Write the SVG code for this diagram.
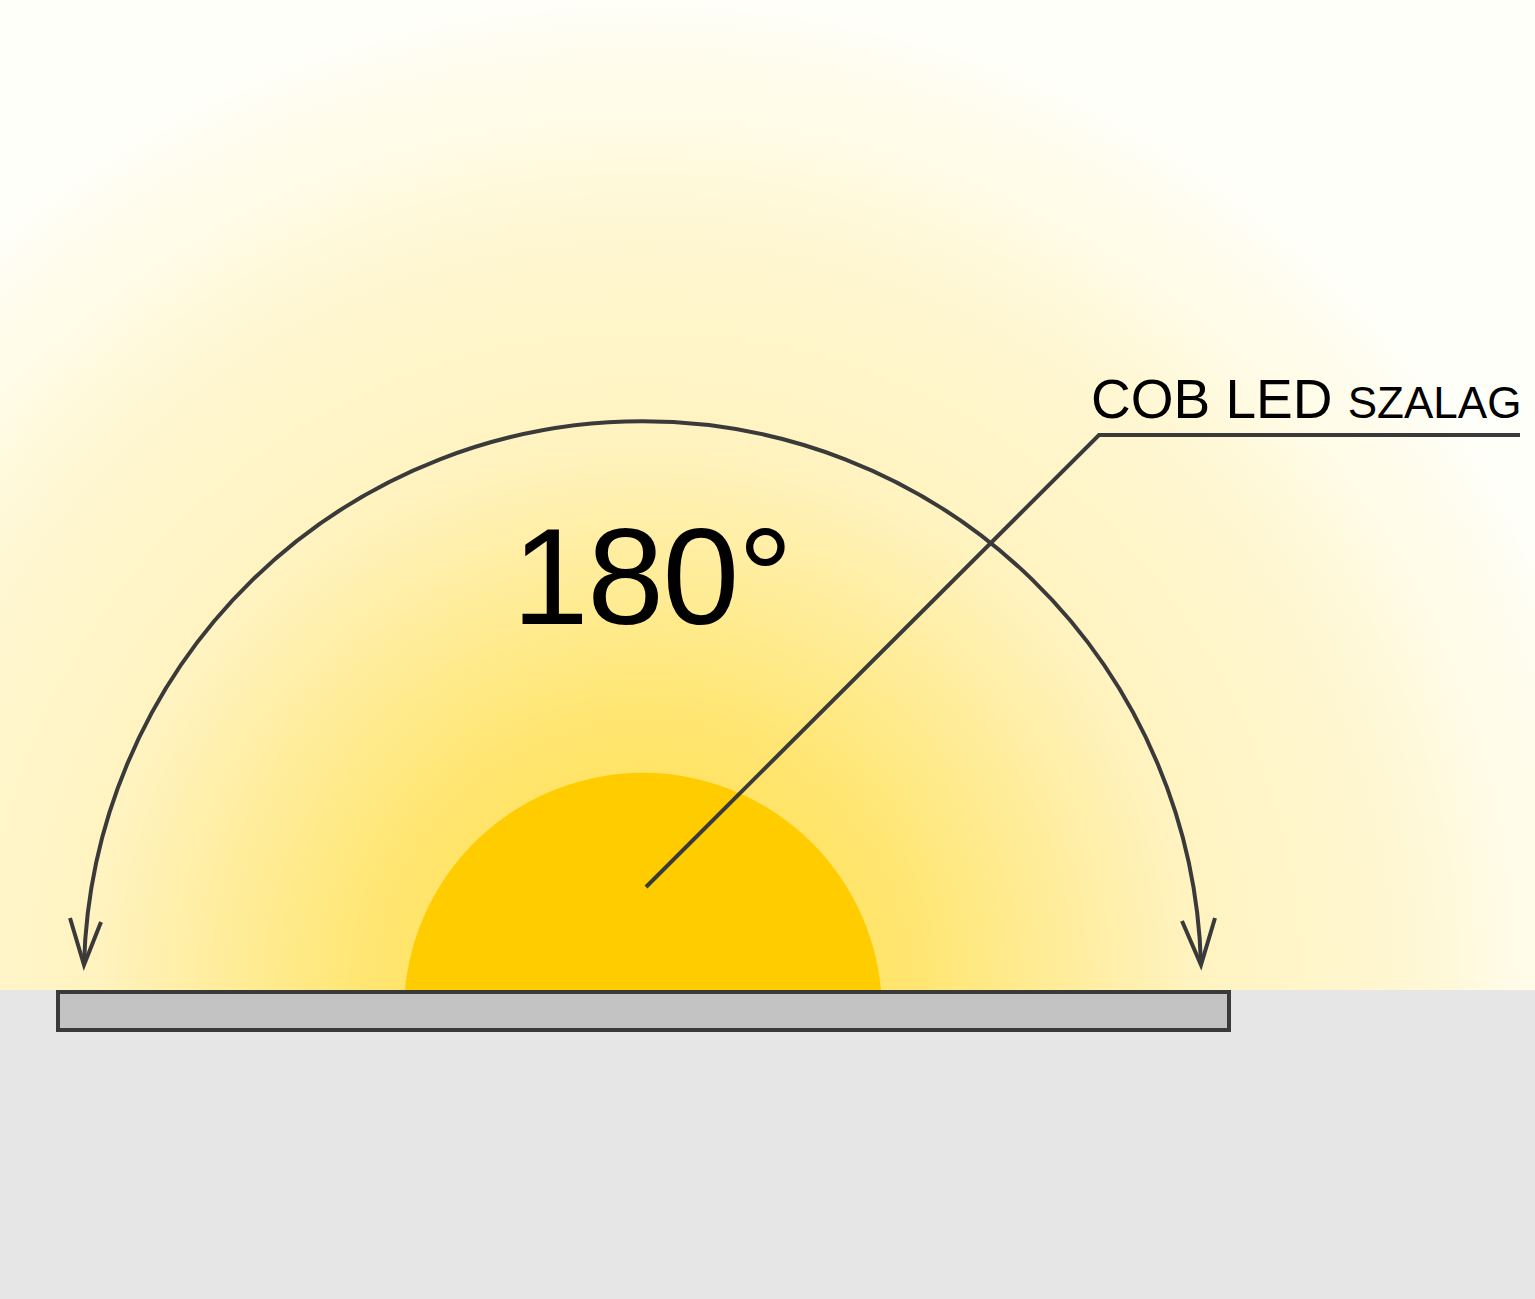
<svg xmlns="http://www.w3.org/2000/svg" width="1535" height="1299" viewBox="0 0 1535 1299">
<defs>
<radialGradient id="glow" gradientUnits="userSpaceOnUse" cx="643" cy="990" r="1000">
<stop offset="0" stop-color="#ffdc40"/>
<stop offset="0.28" stop-color="#ffe673"/>
<stop offset="0.55" stop-color="#fff3c0"/>
<stop offset="0.76" stop-color="#fff7d2"/>
<stop offset="0.87" stop-color="#fffbe6"/>
<stop offset="0.95" stop-color="#fffdf0"/>
<stop offset="1" stop-color="#fffffa"/>
</radialGradient>
<style>
.ln{fill:none;stroke:#3a3a3a;stroke-width:4;stroke-linecap:butt;stroke-linejoin:miter}
.t{font-family:"Liberation Sans",Arial,sans-serif;fill:#000}
</style>
</defs>
<rect x="0" y="0" width="1535" height="990" fill="url(#glow)"/>
<rect x="0" y="990" width="1535" height="309" fill="#e6e6e6"/>
<g id="light">
<path d="M405 990 A239 239 0 0 1 881 990 Z" fill="#ffcc00"/>
</g>
<g id="strip">
<rect x="58" y="992" width="1171" height="38" fill="#c3c3c3" stroke="#3a3a3a" stroke-width="4"/>
</g>
<g id="connectors">
<path class="ln" d="M84 965 A558.7 558.7 0 0 1 1201 965"/>
<path class="ln" d="M70 918 L84 965 L101 922"/>
<path class="ln" d="M1182 921 L1201 965 L1215 918"/>
<path class="ln" d="M646 887 L1099 435 L1520 435"/>
</g>
<g id="label-angle">
<text class="t" x="512" y="624" font-size="138" textLength="281" lengthAdjust="spacing">180°</text>
</g>
<g id="label-cob">
<text class="t" x="1091" y="418" font-size="55">COB LED <tspan font-size="44">SZALAG</tspan></text>
</g>
</svg>
